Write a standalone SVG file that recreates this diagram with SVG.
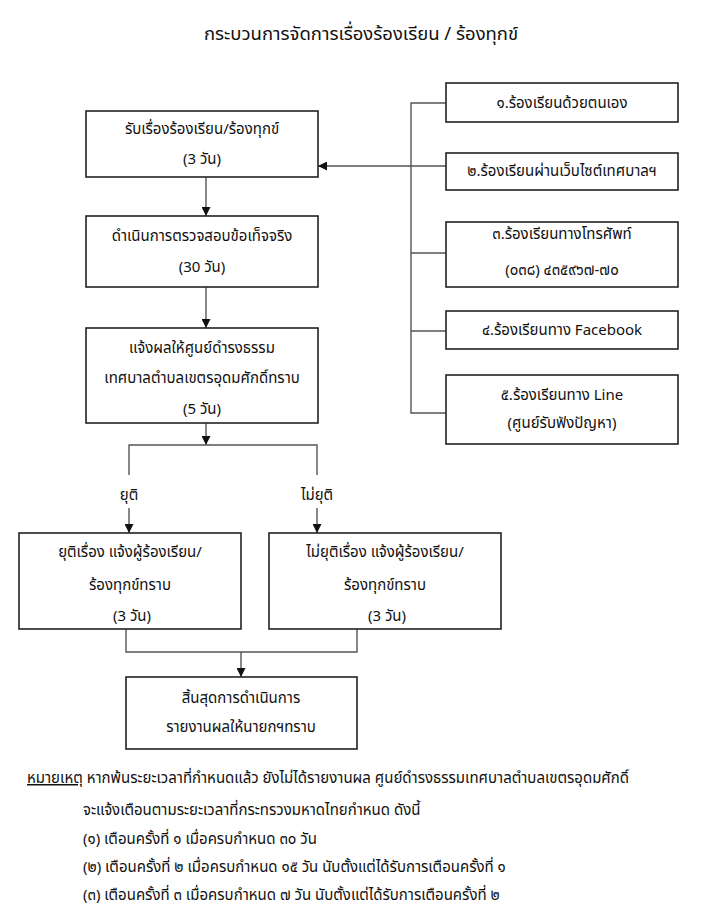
<svg xmlns="http://www.w3.org/2000/svg" width="702" height="919" viewBox="0 0 702 919">
<defs>
<marker id="arr" viewBox="0 0 10 10" refX="10" refY="5" markerWidth="9" markerHeight="9" markerUnits="userSpaceOnUse" orient="auto">
<path d="M0,0 L10,5 L0,10 z" fill="#111"/>
</marker>
<style>
text{font-family:"Noto Sans","Noto Sans Thai","DejaVu Sans",sans-serif;fill:#111;font-size:15px}
.c{text-anchor:middle}
.box{fill:#fff;stroke:#222;stroke-width:1.6}
.ln{fill:none;stroke:#555;stroke-width:1.4}
.title{font-size:18.5px}
</style>
</defs>
<rect width="702" height="919" fill="#fff"/>
<text class="c title" x="361" y="40">กระบวนการจัดการเรื่องร้องเรียน / ร้องทุกข์</text>

<g id="connectors">
<path class="ln" d="M206,177 V216" marker-end="url(#arr)"/>
<path class="ln" d="M206,287 V328" marker-end="url(#arr)"/>
<path class="ln" d="M206,423 V445" marker-end="url(#arr)"/>
<path class="ln" d="M129,475 V445 H317 V475"/>
<path class="ln" d="M129,508 V533" marker-end="url(#arr)"/>
<path class="ln" d="M317,508 V533" marker-end="url(#arr)"/>
<path class="ln" d="M126,629 V652 H357 V629"/>
<path class="ln" d="M241,652 V677" marker-end="url(#arr)"/>
<path class="ln" d="M446,103 H411 V413 H446"/>
<path class="ln" d="M411,253 H446 M411,331 H446"/>
<path class="ln" d="M446,166 H318" marker-end="url(#arr)"/>
<text class="c" x="129" y="500">ยุติ</text>
<text class="c" x="317" y="500">ไม่ยุติ</text>
</g>

<g id="nodeA">
<rect class="box" x="86" y="111" width="232" height="66"/>
<text class="c" x="202" y="134">รับเรื่องร้องเรียน/ร้องทุกข์</text>
<text class="c" x="202" y="164">(3 วัน)</text>
</g>
<g id="nodeB">
<rect class="box" x="86" y="216" width="232" height="71"/>
<text class="c" x="202" y="241">ดำเนินการตรวจสอบข้อเท็จจริง</text>
<text class="c" x="202" y="272">(30 วัน)</text>
</g>
<g id="nodeC">
<rect class="box" x="86" y="328" width="232" height="95"/>
<text class="c" x="202" y="353">แจ้งผลให้ศูนย์ดำรงธรรม</text>
<text class="c" x="202" y="383">เทศบาลตำบลเขตรอุดมศักดิ์ทราบ</text>
<text class="c" x="202" y="414">(5 วัน)</text>
</g>
<g id="nodeD">
<rect class="box" x="19" y="533" width="222" height="96"/>
<text class="c" x="130" y="557">ยุติเรื่อง แจ้งผู้ร้องเรียน/</text>
<text class="c" x="130" y="590">ร้องทุกข์ทราบ</text>
<text class="c" x="132" y="621">(3 วัน)</text>
</g>
<g id="nodeE">
<rect class="box" x="269" y="533" width="232" height="96"/>
<text class="c" x="385" y="557">ไม่ยุติเรื่อง แจ้งผู้ร้องเรียน/</text>
<text class="c" x="385" y="590">ร้องทุกข์ทราบ</text>
<text class="c" x="387" y="621">(3 วัน)</text>
</g>
<g id="nodeF">
<rect class="box" x="126" y="677" width="231" height="72"/>
<text class="c" x="241" y="703">สิ้นสุดการดำเนินการ</text>
<text class="c" x="241" y="732">รายงานผลให้นายกฯทราบ</text>
</g>
<g id="src1">
<rect class="box" x="446" y="83" width="232" height="39"/>
<text class="c" x="562" y="108">๑.ร้องเรียนด้วยตนเอง</text>
</g>
<g id="src2">
<rect class="box" x="446" y="153" width="232" height="37"/>
<text class="c" x="562" y="176">๒.ร้องเรียนผ่านเว็บไซต์เทศบาลฯ</text>
</g>
<g id="src3">
<rect class="box" x="446" y="222" width="232" height="65"/>
<text class="c" x="562" y="239">๓.ร้องเรียนทางโทรศัพท์</text>
<text class="c" x="562" y="275">(๐๓๘) ๔๓๕๙๖๗-๗๐</text>
</g>
<g id="src4">
<rect class="box" x="446" y="311" width="232" height="38"/>
<text class="c" x="562" y="335">๔.ร้องเรียนทาง Facebook</text>
</g>
<g id="src5">
<rect class="box" x="446" y="375" width="232" height="69"/>
<text class="c" x="562" y="400">๕.ร้องเรียนทาง Line</text>
<text class="c" x="562" y="428">(ศูนย์รับฟังปัญหา)</text>
</g>

<g id="note">
<text x="27" y="783"><tspan text-decoration="underline">หมายเหตุ</tspan> หากพ้นระยะเวลาที่กำหนดแล้ว ยังไม่ได้รายงานผล ศูนย์ดำรงธรรมเทศบาลตำบลเขตรอุดมศักดิ์</text>
<text x="83" y="815">จะแจ้งเตือนตามระยะเวลาที่กระทรวงมหาดไทยกำหนด ดังนี้</text>
<text x="83" y="844">(๑) เตือนครั้งที่ ๑ เมื่อครบกำหนด ๓๐ วัน</text>
<text x="83" y="872">(๒) เตือนครั้งที่ ๒ เมื่อครบกำหนด ๑๕ วัน นับตั้งแต่ได้รับการเตือนครั้งที่ ๑</text>
<text x="83" y="900">(๓) เตือนครั้งที่ ๓ เมื่อครบกำหนด ๗ วัน นับตั้งแต่ได้รับการเตือนครั้งที่ ๒</text>
</g>
</svg>
